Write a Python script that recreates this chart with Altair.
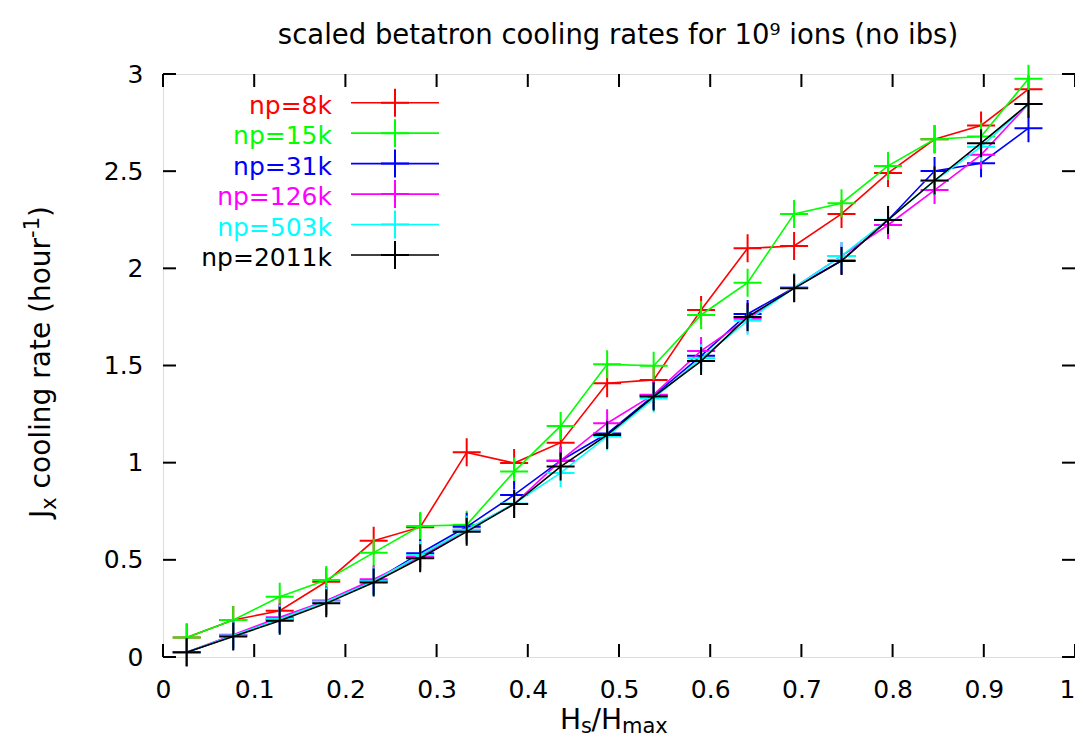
import altair as alt
import pandas as pd

# ---------------- data ----------------
x_vals = [0.026, 0.077, 0.128, 0.179, 0.231, 0.282, 0.333, 0.385, 0.436, 0.487,
          0.538, 0.590, 0.641, 0.692, 0.744, 0.795, 0.846, 0.897, 0.949]

labels = ["np=8k", "np=15k", "np=31k", "np=126k", "np=503k", "np=2011k"]
colors = ["#ff0000", "#00ff00", "#0000ff", "#ff00ff", "#00ffff", "#000000"]

np8k = [0.10, 0.19, 0.238, 0.387, 0.598, 0.668, 1.053, 0.998, 1.103, 1.409,
        1.426, 1.786, 2.103, 2.115, 2.28, 2.49, 2.664, 2.735, 2.922]
np15k = [0.10, 0.19, 0.31, 0.396, 0.537, 0.674, 0.68, 0.954, 1.189, 1.506,
         1.499, 1.76, 1.926, 2.28, 2.335, 2.527, 2.664, 2.678, 2.975]
np31k = [0.025, 0.11, 0.195, 0.29, 0.39, 0.534, 0.67, 0.834, 1.01, 1.15,
         1.345, 1.55, 1.765, 1.9, 2.04, 2.249, 2.501, 2.541, 2.721]
np126k = [0.025, 0.115, 0.205, 0.29, 0.40, 0.515, 0.655, 0.787, 1.01, 1.203,
          1.35, 1.575, 1.74, 1.9, 2.064, 2.223, 2.403, 2.584, 2.846]
np503k = [0.024, 0.11, 0.195, 0.285, 0.39, 0.525, 0.655, 0.79, 0.947, 1.135,
          1.33, 1.537, 1.73, 1.9, 2.064, 2.25, 2.45, 2.626, 2.846]
np2011k = [0.024, 0.105, 0.187, 0.276, 0.383, 0.508, 0.645, 0.787, 0.98, 1.143,
           1.34, 1.523, 1.75, 1.897, 2.038, 2.249, 2.452, 2.644, 2.846]

series = [np8k, np15k, np31k, np126k, np503k, np2011k]

x_ticks = [0, 0.1, 0.2, 0.3, 0.4, 0.5, 0.6, 0.7, 0.8, 0.9, 1]
y_ticks = [0, 0.5, 1, 1.5, 2, 2.5, 3]

title_text = ["scaled betatron cooling rates for 10\u2079 ions (no ibs)"]
# axis titles split into normal / subscript / superscript runs
x_title_runs = ["H", "s", "/", "H", "max"]
x_title_kind = ["n", "sub", "n", "n", "sub"]
y_title_runs = ["J", "x", "cooling rate (hour", "-1", ")"]
y_title_kind = ["n", "sub", "n", "sup", "n"]

# ---------------- layout ----------------
W, H = 912, 583
FONT = "DejaVu Sans"
FS = 25
TFS = 28
SFS = 21
TICK = 13
CROSS = "M-1,0L1,0M0,-1L0,1"

xscale = alt.Scale(domain=[0, 1], nice=False, zero=False)
yscale = alt.Scale(domain=[0, 3], nice=False, zero=False)
cscale = alt.Scale(domain=labels, range=colors)

xaxis = alt.Axis(values=x_ticks, format="~g", grid=False, domain=False, ticks=False,
                 tickSize=0, labelFont=FONT, labelFontSize=FS, labelColor="black",
                 labelPadding=20, labelFlush=False, title=None,
                 labelOffset={"condition": {"test": "datum.value == 1", "value": -8},
                              "value": 0})
yaxis = alt.Axis(values=y_ticks, format="~g", grid=False, domain=False, ticks=False,
                 tickSize=0, labelFont=FONT, labelFontSize=FS, labelColor="black",
                 labelPadding=20, labelFlush=False, title=None)

rows = []
for lab, vals in zip(labels, series):
    for xv, yv in zip(x_vals, vals):
        rows.append({"series": lab, "x": xv, "y": yv})
df = pd.DataFrame(rows)

layers = []
for lab in labels:
    sub = df[df["series"] == lab]
    base = alt.Chart(sub).encode(
        x=alt.X("x:Q", scale=xscale, axis=xaxis),
        y=alt.Y("y:Q", scale=yscale, axis=yaxis),
        color=alt.Color("series:N", scale=cscale, legend=None),
    )
    layers.append(base.mark_line(strokeWidth=1.6))
    layers.append(base.mark_point(shape=CROSS, size=784, filled=False, strokeWidth=2,
                                  opacity=1))

# inward ticks on all four sides
xt = pd.DataFrame({"t": x_ticks})
yt = pd.DataFrame({"t": y_ticks})
tick_style = dict(color="black", strokeWidth=2)
layers.append(alt.Chart(xt).mark_rule(**tick_style).encode(
    x=alt.X("t:Q", scale=xscale, axis=xaxis), y=alt.value(H), y2=alt.value(H - TICK)))
layers.append(alt.Chart(xt).mark_rule(**tick_style).encode(
    x=alt.X("t:Q", scale=xscale, axis=xaxis), y=alt.value(0), y2=alt.value(TICK)))
layers.append(alt.Chart(yt).mark_rule(**tick_style).encode(
    y=alt.Y("t:Q", scale=yscale, axis=yaxis), x=alt.value(0), x2=alt.value(TICK)))
layers.append(alt.Chart(yt).mark_rule(**tick_style).encode(
    y=alt.Y("t:Q", scale=yscale, axis=yaxis), x=alt.value(W), x2=alt.value(W - TICK)))

# legend (gnuplot style, inside the plot)
leg = pd.DataFrame({"series": labels, "idx": list(range(len(labels)))})
leg_base = alt.Chart(leg).transform_calculate(
    ly="3 * (1 - (28.7 + datum.idx * 30.46) / 583)"
)
layers.append(leg_base.mark_text(font=FONT, fontSize=FS, align="right",
                                 baseline="middle", dy=3).encode(
    x=alt.value(169),
    y=alt.Y("ly:Q", scale=yscale, axis=yaxis),
    text="series:N",
    color=alt.Color("series:N", scale=cscale, legend=None)))
layers.append(leg_base.mark_rule(strokeWidth=1.6).encode(
    x=alt.value(188), x2=alt.value(276),
    y=alt.Y("ly:Q", scale=yscale, axis=yaxis),
    color=alt.Color("series:N", scale=cscale, legend=None)))
layers.append(leg_base.mark_point(shape=CROSS, size=784, filled=False, strokeWidth=2,
                                  opacity=1).encode(
    x=alt.value(232),
    y=alt.Y("ly:Q", scale=yscale, axis=yaxis),
    color=alt.Color("series:N", scale=cscale, legend=None)))


def run_text(txt, px, py, size, angle=0, align="left"):
    return alt.Chart(pd.DataFrame({"t": [txt]})).mark_text(
        font=FONT, fontSize=size, align=align, baseline="alphabetic",
        angle=angle, color="black").encode(
        x=alt.value(px), y=alt.value(py), text="t:N")


# chart title
layers.append(run_text(title_text[0], W / 2 - 1, -30, 27.5, align="center"))

# x-axis title  H_s / H_max
x_base = H + 72
x_pos = [397, 418, 428.5, 438, 459]
for txt, kind, px in zip(x_title_runs, x_title_kind, x_pos):
    size = TFS if kind == "n" else SFS
    dy = 4 if kind == "sub" else 0
    layers.append(run_text(txt, px, x_base + dy, size))

# y-axis title  J_x cooling rate (hour^-1), rotated
y_base = -113
y_pos = [444, 435.7, 414.4, 163.9, 142.9]
for txt, kind, py in zip(y_title_runs, y_title_kind, y_pos):
    size = TFS if kind == "n" else SFS
    dx = 6 if kind == "sub" else (-11 if kind == "sup" else 0)
    layers.append(run_text(txt, y_base + dx, py, size, angle=270))

chart = alt.layer(*layers).properties(
    width=W, height=H,
    autosize=alt.AutoSizeParams(type="none"),
    padding={"left": 155, "top": 66, "right": 0, "bottom": 80},
).configure_view(stroke="black", strokeWidth=2).configure(background="white")

chart.save("out.html", embed_options={"renderer": "svg", "actions": False})
